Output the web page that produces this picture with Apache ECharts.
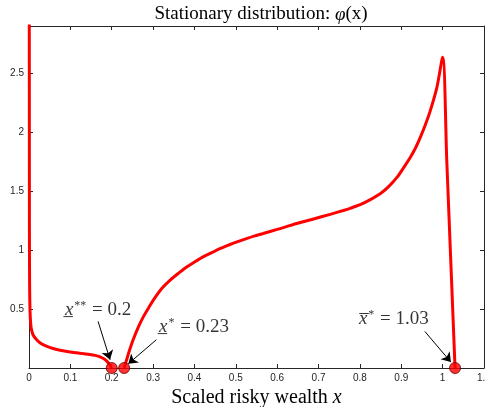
<!DOCTYPE html>
<html><head><meta charset="utf-8">
<script src="https://cdn.jsdelivr.net/npm/echarts@6/dist/echarts.min.js"></script>
<style>html,body{margin:0;padding:0;background:#fff}#c{width:485px;height:407px}</style>
</head><body><div id="c"></div>
<script>
// Left branch of the stationary density (x < x**)
const leftX = [0.0005, 0.001, 0.0015, 0.0025, 0.004, 0.006, 0.01, 0.018, 0.028, 0.042, 0.058, 0.075, 0.095, 0.115, 0.13, 0.147, 0.16, 0.172, 0.181, 0.188, 0.194, 0.2];
const leftY  = [5.0, 1.2, 0.7, 0.48, 0.38, 0.325, 0.28, 0.241, 0.21, 0.185, 0.165, 0.151, 0.138, 0.129, 0.122, 0.115, 0.107, 0.095, 0.078, 0.058, 0.032, 0.0];
// Right branch (x* <= x <= x̄*)
const rightX = [0.23, 0.235, 0.243, 0.252, 0.264, 0.277, 0.29, 0.301, 0.32, 0.342, 0.362, 0.382, 0.402, 0.422, 0.443, 0.463, 0.483, 0.503, 0.524, 0.544, 0.566, 0.6, 0.647, 0.69, 0.728, 0.76, 0.776, 0.809, 0.849, 0.87, 0.89, 0.906, 0.922, 0.935, 0.946, 0.958, 0.97, 0.986, 1.0, 1.01, 1.02, 1.03];
const rightY = [0.0, 0.058, 0.15, 0.241, 0.345, 0.438, 0.515, 0.578, 0.67, 0.747, 0.805, 0.859, 0.903, 0.944, 0.98, 1.014, 1.043, 1.07, 1.095, 1.118, 1.14, 1.175, 1.225, 1.266, 1.303, 1.336, 1.354, 1.398, 1.478, 1.54, 1.618, 1.70, 1.787, 1.87, 1.955, 2.06, 2.18, 2.377, 2.636, 1.76, 0.88, 0.0];
// Threshold points
const pointX = [0.2, 0.23, 1.03];
const pointY = [0, 0, 0];
// Annotation texts (rich text) and their anchors in data units
const annText = ['{v|x\u0332}{s|**}{n| = 0.2}', '{v|x\u0332}{s|*}{n| = 0.23}', '{v|x\u0305}{s|*}{n| = 1.03}'];
const annX = [0.167, 0.399, 0.882];
const annY = [0.49, 0.345, 0.418];
const arrowFromX = [0.167, 0.308, 0.957];
const arrowFromY = [0.395, 0.24, 0.31];
const arrowToX = [0.196, 0.24, 1.02];
const arrowToY = [0.07, 0.035, 0.05];

const xMin = 0, xMax = 1.1, xInt = 0.1;
const yMin = 0, yMax = 2.9, yInt = 0.5;

const chart = echarts.init(document.getElementById('c'), null, {renderer: 'canvas'});
const axisCol = '#262626';
const serif = 'Liberation Serif';
const tickLabel = {color: axisCol, fontSize: 10, fontFamily: 'Liberation Sans', margin: 5};

const fmtX = v => String(Math.round(v * 10) / 10);
const fmtY = v => {
  const r = Math.round(v * 10) / 10;
  if (r === 0) return '';
  if (Math.abs(r / yInt - Math.round(r / yInt)) > 1e-6) return '';
  return String(r);
};

const rich = {
  v: {fontFamily: serif, fontStyle: 'italic', fontSize: 19, color: '#000'},
  s: {fontFamily: serif, fontSize: 12, color: '#000', verticalAlign: 'top', padding: [0, 1, 8, 1]},
  n: {fontFamily: serif, fontSize: 19, color: '#000'}
};

const arrows = arrowFromX.map((fx, i) => [
  {coord: [fx, arrowFromY[i]]},
  {coord: [arrowToX[i], arrowToY[i]]}
]);

chart.setOption({
  animation: false,
  backgroundColor: '#fff',
  title: {
    text: 'Stationary distribution: {i|φ}(x)',
    left: 256, textAlign: 'center', top: 0,
    textStyle: {
      fontFamily: serif, fontSize: 19, fontWeight: 'normal', color: '#000',
      rich: {i: {fontFamily: serif, fontStyle: 'italic', fontSize: 19, color: '#000'}}
    }
  },
  grid: {left: 29, right: 1, top: 26, bottom: 39, containLabel: false, outerBoundsMode: 'none'},
  xAxis: [{
    type: 'value', min: xMin, max: xMax, interval: xInt,
    name: 'Scaled risky wealth {i|x}', nameLocation: 'middle', nameGap: 15,
    nameTextStyle: {fontFamily: serif, fontSize: 20, color: '#000',
      rich: {i: {fontFamily: serif, fontStyle: 'italic', fontSize: 20, color: '#000'}}},
    axisLine: {onZero: false, lineStyle: {color: axisCol, width: 1}},
    axisTick: {inside: true, length: 4, lineStyle: {color: axisCol}},
    axisLabel: Object.assign({formatter: fmtX}, tickLabel),
    splitLine: {show: false}
  }, {
    type: 'value', position: 'top', min: xMin, max: xMax, interval: xInt,
    axisLine: {onZero: false, lineStyle: {color: axisCol, width: 1}},
    axisTick: {inside: true, length: 4, lineStyle: {color: axisCol}},
    axisLabel: {show: false}, splitLine: {show: false}
  }],
  yAxis: [{
    type: 'value', min: yMin, max: yMax, interval: yInt,
    axisLine: {show: true, onZero: false, lineStyle: {color: axisCol, width: 1}},
    axisTick: {show: true, inside: true, length: 4, lineStyle: {color: axisCol}},
    axisLabel: Object.assign({formatter: fmtY}, tickLabel),
    splitLine: {show: false}
  }, {
    type: 'value', position: 'right', min: yMin, max: yMax, interval: yInt,
    axisLine: {show: true, onZero: false, lineStyle: {color: axisCol, width: 1}},
    axisTick: {show: true, inside: true, length: 4, lineStyle: {color: axisCol}},
    axisLabel: {show: false}, splitLine: {show: false}
  }],
  series: [{
    type: 'line', name: 'left', clip: true,
    data: leftX.map((x, i) => [x, leftY[i]]),
    showSymbol: false, smooth: 0.3,
    lineStyle: {color: '#ff0000', width: 3}, z: 3
  }, {
    type: 'line', name: 'right', clip: true,
    data: rightX.map((x, i) => [x, rightY[i]]),
    showSymbol: false, smooth: 0.3,
    lineStyle: {color: '#ff0000', width: 3}, z: 3
  }, {
    type: 'scatter', name: 'points',
    data: pointX.map((x, i) => [x, pointY[i]]),
    symbol: 'circle', symbolSize: 11,
    itemStyle: {color: '#ff0000', borderColor: '#6b0000', borderWidth: 1},
    clip: false, z: 5
  }, {
    type: 'scatter', name: 'labels',
    data: annX.map((x, i) => ({value: [x, annY[i]], label: {formatter: annText[i]}})),
    symbolSize: 0, silent: true,
    label: {show: true, position: 'inside', rich: rich, color: '#000'},
    z: 6,
    markLine: {
      silent: true, symbol: ['none', 'arrow'], symbolSize: 9,
      itemStyle: {color: '#000'},
      lineStyle: {color: '#000', width: 1, type: 'solid'},
      label: {show: false},
      emphasis: {disabled: true},
      data: arrows
    }
  }]
});
</script>
</body></html>
